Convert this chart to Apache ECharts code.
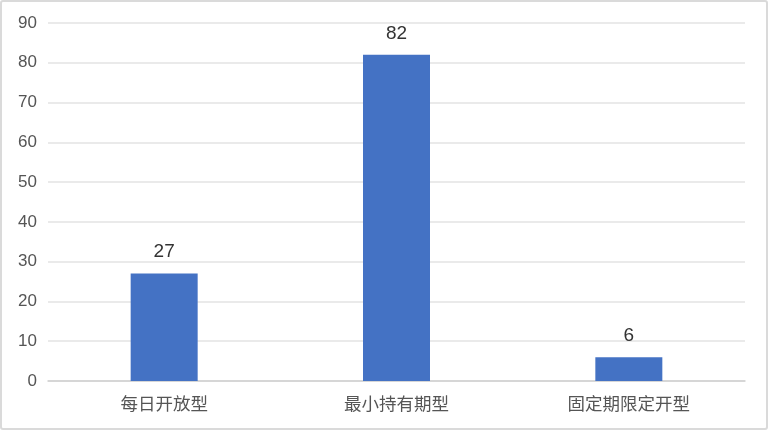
<html>
<head>
<meta charset="UTF-8">
<title>产品类型数量</title>
<script src="https://cdn.jsdelivr.net/npm/echarts@6/dist/echarts.min.js"></script>
<style>
  html, body { margin: 0; padding: 0; background: #fff; }
  #main { position: absolute; left: 0; top: 0; width: 764px; height: 426px; border: 2px solid #dadada; border-radius: 3px; }
</style>
</head>
<body>
<div id="main"></div>
<script type="text/javascript">
// 数据
var categories = ['每日开放型', '最小持有期型', '固定期限定开型'];
var counts = [27, 82, 6];

var myChart = echarts.init(document.getElementById('main'));

var option = {
    animation: false,
    grid: {
        left: 46,
        right: 21,
        top: 21,
        bottom: 47
    },
    xAxis: {
        type: 'category',
        data: categories,
        axisTick: { show: false },
        axisLine: { lineStyle: { color: '#d0d0d0', width: 1.5 } },
        axisLabel: {
            color: '#555',
            fontSize: 17.5,
            margin: 14,
            fontFamily: 'Noto Sans CJK SC'
        }
    },
    yAxis: {
        type: 'value',
        min: 0,
        max: 90,
        interval: 10,
        axisLine: { show: false },
        axisTick: { show: false },
        axisLabel: {
            color: '#555',
            fontSize: 17,
            margin: 11,
            fontFamily: 'Liberation Sans'
        },
        splitLine: { lineStyle: { color: '#e3e3e3', width: 1.5 } }
    },
    series: [
        {
            type: 'bar',
            data: counts,
            barWidth: 67,
            itemStyle: { color: '#4472C4' },
            label: {
                show: true,
                position: 'top',
                distance: 12,
                color: '#333',
                fontSize: 19,
                fontFamily: 'Liberation Sans'
            }
        }
    ]
};
myChart.setOption(option);
</script>
</body>
</html>
